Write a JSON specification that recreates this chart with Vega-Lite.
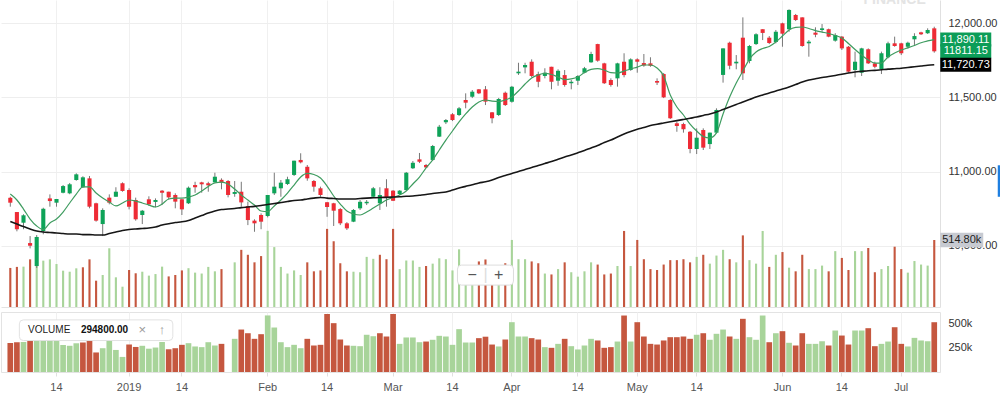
{
  "$schema": "https://vega.github.io/schema/vega-lite/v6.json",
  "padding": 0,
  "spacing": 4,
  "config": {"view": {"stroke": null}, "axis": {"labelFont": "Liberation Sans"}, "text": {"font": "Liberation Sans"}},
  "data": {"values": [
{"d":"2018-12-04","o":10824,"h":10831,"l":10764,"c":10791,"v":300000,"vd":"down","m5":10849,"m50":10664},
{"d":"2018-12-06","o":10728,"h":10728,"l":10598,"c":10612,"v":308000,"vd":"down","m5":10809,"m50":10647},
{"d":"2018-12-07","o":10656,"h":10713,"l":10612,"c":10706,"v":310000,"vd":"up","m5":10748,"m50":10630},
{"d":"2018-12-10","o":10519,"h":10566,"l":10483,"c":10501,"v":366000,"vd":"down","m5":10681,"m50":10614},
{"d":"2018-12-11","o":10364,"h":10573,"l":10351,"c":10560,"v":345000,"vd":"up","m5":10634,"m50":10600},
{"d":"2018-12-12","o":10600,"h":10757,"l":10578,"c":10750,"v":356000,"vd":"up","m5":10610,"m50":10593},
{"d":"2018-12-13","o":10820,"h":10847,"l":10764,"c":10802,"v":366000,"vd":"up","m5":10654,"m50":10590},
{"d":"2018-12-14","o":10791,"h":10816,"l":10764,"c":10816,"v":330000,"vd":"up","m5":10681,"m50":10587},
{"d":"2018-12-17","o":10858,"h":10910,"l":10854,"c":10903,"v":279000,"vd":"up","m5":10728,"m50":10583},
{"d":"2018-12-18","o":10854,"h":10924,"l":10848,"c":10915,"v":271000,"vd":"up","m5":10789,"m50":10580},
{"d":"2018-12-19","o":10944,"h":10989,"l":10939,"c":10982,"v":297000,"vd":"up","m5":10849,"m50":10580},
{"d":"2018-12-20","o":10895,"h":10969,"l":10890,"c":10962,"v":305000,"vd":"down","m5":10897,"m50":10576},
{"d":"2018-12-21","o":10955,"h":10971,"l":10753,"c":10764,"v":366000,"vd":"down","m5":10897,"m50":10576},
{"d":"2018-12-24","o":10787,"h":10791,"l":10663,"c":10670,"v":202000,"vd":"down","m5":10856,"m50":10573},
{"d":"2018-12-26","o":10647,"h":10753,"l":10566,"c":10742,"v":246000,"vd":"up","m5":10822,"m50":10573},
{"d":"2018-12-27","o":10825,"h":10847,"l":10780,"c":10791,"v":451000,"vd":"up","m5":10795,"m50":10583},
{"d":"2018-12-28","o":10831,"h":10895,"l":10831,"c":10865,"v":228000,"vd":"up","m5":10769,"m50":10593},
{"d":"2018-12-31","o":10922,"h":10928,"l":10865,"c":10870,"v":156000,"vd":"up","m5":10789,"m50":10603},
{"d":"2019-01-02","o":10876,"h":10888,"l":10746,"c":10764,"v":284000,"vd":"down","m5":10809,"m50":10610},
{"d":"2019-01-03","o":10809,"h":10825,"l":10670,"c":10679,"v":259000,"vd":"down","m5":10802,"m50":10614},
{"d":"2019-01-04","o":10708,"h":10742,"l":10647,"c":10737,"v":271000,"vd":"up","m5":10789,"m50":10617},
{"d":"2019-01-07","o":10814,"h":10834,"l":10771,"c":10780,"v":241000,"vd":"up","m5":10775,"m50":10620},
{"d":"2019-01-08","o":10796,"h":10820,"l":10760,"c":10809,"v":253000,"vd":"up","m5":10762,"m50":10627},
{"d":"2019-01-09","o":10872,"h":10876,"l":10775,"c":10858,"v":310000,"vd":"up","m5":10782,"m50":10640},
{"d":"2019-01-10","o":10865,"h":10865,"l":10813,"c":10827,"v":235000,"vd":"down","m5":10816,"m50":10649},
{"d":"2019-01-11","o":10843,"h":10854,"l":10753,"c":10798,"v":246000,"vd":"down","m5":10822,"m50":10657},
{"d":"2019-01-14","o":10814,"h":10814,"l":10708,"c":10746,"v":281000,"vd":"down","m5":10822,"m50":10662},
{"d":"2019-01-15","o":10787,"h":10900,"l":10782,"c":10892,"v":298000,"vd":"up","m5":10829,"m50":10671},
{"d":"2019-01-16","o":10910,"h":10932,"l":10858,"c":10895,"v":264000,"vd":"up","m5":10843,"m50":10688},
{"d":"2019-01-17","o":10928,"h":10932,"l":10858,"c":10915,"v":257000,"vd":"up","m5":10870,"m50":10704},
{"d":"2019-01-18","o":10922,"h":10932,"l":10865,"c":10908,"v":308000,"vd":"up","m5":10900,"m50":10721},
{"d":"2019-01-22","o":10928,"h":10993,"l":10928,"c":10966,"v":274000,"vd":"up","m5":10924,"m50":10735},
{"d":"2019-01-23","o":10945,"h":10955,"l":10881,"c":10927,"v":291000,"vd":"down","m5":10930,"m50":10745},
{"d":"2019-01-24","o":10937,"h":10944,"l":10827,"c":10843,"v":0,"vd":"down","m5":10917,"m50":10748},
{"d":"2019-01-25","o":10850,"h":10937,"l":10831,"c":10863,"v":343000,"vd":"up","m5":10883,"m50":10752},
{"d":"2019-01-28","o":10865,"h":10932,"l":10764,"c":10793,"v":439000,"vd":"down","m5":10843,"m50":10758},
{"d":"2019-01-29","o":10768,"h":10798,"l":10640,"c":10674,"v":401000,"vd":"down","m5":10809,"m50":10762},
{"d":"2019-01-30","o":10670,"h":10679,"l":10595,"c":10652,"v":343000,"vd":"down","m5":10775,"m50":10766},
{"d":"2019-01-31","o":10708,"h":10719,"l":10612,"c":10663,"v":391000,"vd":"down","m5":10735,"m50":10772},
{"d":"2019-02-01","o":10701,"h":10843,"l":10692,"c":10843,"v":585000,"vd":"up","m5":10731,"m50":10779},
{"d":"2019-02-04","o":10854,"h":10993,"l":10843,"c":10899,"v":460000,"vd":"up","m5":10769,"m50":10785},
{"d":"2019-02-05","o":10888,"h":10944,"l":10831,"c":10926,"v":308000,"vd":"up","m5":10809,"m50":10792},
{"d":"2019-02-06","o":10917,"h":10966,"l":10910,"c":10949,"v":257000,"vd":"up","m5":10856,"m50":10799},
{"d":"2019-02-07","o":10978,"h":11074,"l":10971,"c":11074,"v":281000,"vd":"up","m5":10910,"m50":10806},
{"d":"2019-02-08","o":11079,"h":11124,"l":11056,"c":11063,"v":246000,"vd":"up","m5":10964,"m50":10809},
{"d":"2019-02-11","o":11033,"h":11045,"l":10939,"c":10955,"v":343000,"vd":"down","m5":10988,"m50":10816},
{"d":"2019-02-12","o":10937,"h":10944,"l":10865,"c":10899,"v":274000,"vd":"down","m5":10981,"m50":10822},
{"d":"2019-02-13","o":10888,"h":10899,"l":10831,"c":10843,"v":281000,"vd":"down","m5":10957,"m50":10826},
{"d":"2019-02-14","o":10794,"h":10796,"l":10696,"c":10762,"v":600000,"vd":"down","m5":10903,"m50":10822},
{"d":"2019-02-15","o":10787,"h":10790,"l":10634,"c":10737,"v":505000,"vd":"down","m5":10836,"m50":10819},
{"d":"2019-02-19","o":10748,"h":10755,"l":10640,"c":10652,"v":336000,"vd":"down","m5":10782,"m50":10816},
{"d":"2019-02-20","o":10652,"h":10660,"l":10607,"c":10618,"v":274000,"vd":"down","m5":10735,"m50":10816},
{"d":"2019-02-21","o":10663,"h":10748,"l":10660,"c":10742,"v":271000,"vd":"up","m5":10715,"m50":10816},
{"d":"2019-02-22","o":10753,"h":10809,"l":10742,"c":10797,"v":267000,"vd":"up","m5":10708,"m50":10819},
{"d":"2019-02-25","o":10787,"h":10809,"l":10775,"c":10797,"v":385000,"vd":"up","m5":10728,"m50":10822},
{"d":"2019-02-26","o":10831,"h":10897,"l":10822,"c":10888,"v":370000,"vd":"up","m5":10755,"m50":10824},
{"d":"2019-02-27","o":10787,"h":10895,"l":10742,"c":10843,"v":401000,"vd":"down","m5":10782,"m50":10826},
{"d":"2019-02-28","o":10888,"h":10949,"l":10764,"c":10827,"v":367000,"vd":"down","m5":10809,"m50":10827},
{"d":"2019-03-01","o":10872,"h":10876,"l":10802,"c":10804,"v":600000,"vd":"down","m5":10826,"m50":10829},
{"d":"2019-03-04","o":10849,"h":10876,"l":10843,"c":10872,"v":291000,"vd":"up","m5":10843,"m50":10831},
{"d":"2019-03-05","o":10876,"h":10998,"l":10872,"c":10993,"v":357000,"vd":"up","m5":10870,"m50":10834},
{"d":"2019-03-06","o":11023,"h":11072,"l":11018,"c":11060,"v":357000,"vd":"up","m5":10917,"m50":10836},
{"d":"2019-03-07","o":11083,"h":11126,"l":11058,"c":11067,"v":308000,"vd":"up","m5":10964,"m50":10841},
{"d":"2019-03-08","o":11045,"h":11052,"l":11025,"c":11029,"v":315000,"vd":"down","m5":11025,"m50":10846},
{"d":"2019-03-11","o":11079,"h":11180,"l":11072,"c":11173,"v":333000,"vd":"up","m5":11079,"m50":10853},
{"d":"2019-03-12","o":11236,"h":11315,"l":11234,"c":11303,"v":374000,"vd":"up","m5":11146,"m50":10858},
{"d":"2019-03-13","o":11333,"h":11355,"l":11321,"c":11348,"v":367000,"vd":"up","m5":11213,"m50":10863},
{"d":"2019-03-14","o":11387,"h":11395,"l":11341,"c":11348,"v":281000,"vd":"up","m5":11274,"m50":10876},
{"d":"2019-03-15","o":11382,"h":11436,"l":11375,"c":11427,"v":443000,"vd":"up","m5":11335,"m50":10890},
{"d":"2019-03-18","o":11483,"h":11528,"l":11427,"c":11465,"v":305000,"vd":"up","m5":11389,"m50":10901},
{"d":"2019-03-19","o":11505,"h":11550,"l":11496,"c":11539,"v":305000,"vd":"up","m5":11436,"m50":10912},
{"d":"2019-03-20","o":11555,"h":11557,"l":11523,"c":11528,"v":350000,"vd":"down","m5":11470,"m50":10924},
{"d":"2019-03-21","o":11555,"h":11577,"l":11449,"c":11472,"v":365000,"vd":"down","m5":11483,"m50":10932},
{"d":"2019-03-22","o":11400,"h":11402,"l":11326,"c":11360,"v":284000,"vd":"down","m5":11476,"m50":10944},
{"d":"2019-03-27","o":11382,"h":11497,"l":11375,"c":11490,"v":264000,"vd":"up","m5":11473,"m50":10961},
{"d":"2019-03-29","o":11532,"h":11540,"l":11443,"c":11449,"v":336000,"vd":"down","m5":11483,"m50":10974},
{"d":"2019-04-01","o":11472,"h":11578,"l":11465,"c":11573,"v":515000,"vd":"up","m5":11503,"m50":10988},
{"d":"2019-04-02","o":11663,"h":11734,"l":11652,"c":11674,"v":367000,"vd":"up","m5":11544,"m50":11001},
{"d":"2019-04-03","o":11703,"h":11734,"l":11663,"c":11719,"v":367000,"vd":"up","m5":11591,"m50":11015},
{"d":"2019-04-04","o":11741,"h":11757,"l":11636,"c":11645,"v":350000,"vd":"down","m5":11631,"m50":11028},
{"d":"2019-04-05","o":11658,"h":11674,"l":11569,"c":11606,"v":336000,"vd":"down","m5":11652,"m50":11042},
{"d":"2019-04-08","o":11645,"h":11697,"l":11629,"c":11667,"v":257000,"vd":"up","m5":11662,"m50":11055},
{"d":"2019-04-09","o":11707,"h":11707,"l":11555,"c":11606,"v":250000,"vd":"down","m5":11655,"m50":11068},
{"d":"2019-04-10","o":11613,"h":11690,"l":11579,"c":11680,"v":291000,"vd":"up","m5":11638,"m50":11084},
{"d":"2019-04-11","o":11651,"h":11685,"l":11573,"c":11584,"v":343000,"vd":"down","m5":11621,"m50":11099},
{"d":"2019-04-12","o":11596,"h":11618,"l":11555,"c":11606,"v":267000,"vd":"up","m5":11625,"m50":11112},
{"d":"2019-04-15","o":11613,"h":11651,"l":11584,"c":11645,"v":233000,"vd":"up","m5":11638,"m50":11128},
{"d":"2019-04-16","o":11667,"h":11706,"l":11663,"c":11697,"v":274000,"vd":"up","m5":11668,"m50":11143},
{"d":"2019-04-17","o":11737,"h":11808,"l":11734,"c":11793,"v":343000,"vd":"up","m5":11689,"m50":11160},
{"d":"2019-04-18","o":11860,"h":11862,"l":11741,"c":11748,"v":326000,"vd":"down","m5":11695,"m50":11176},
{"d":"2019-04-22","o":11730,"h":11734,"l":11591,"c":11596,"v":250000,"vd":"down","m5":11685,"m50":11197},
{"d":"2019-04-23","o":11618,"h":11629,"l":11573,"c":11584,"v":257000,"vd":"down","m5":11668,"m50":11213},
{"d":"2019-04-24","o":11629,"h":11734,"l":11573,"c":11730,"v":315000,"vd":"up","m5":11665,"m50":11234},
{"d":"2019-04-25","o":11741,"h":11798,"l":11636,"c":11651,"v":584000,"vd":"down","m5":11678,"m50":11254},
{"d":"2019-04-26","o":11685,"h":11764,"l":11680,"c":11757,"v":315000,"vd":"up","m5":11692,"m50":11271},
{"d":"2019-05-01","o":11757,"h":11764,"l":11667,"c":11741,"v":515000,"vd":"down","m5":11705,"m50":11286},
{"d":"2019-05-02","o":11732,"h":11793,"l":11707,"c":11716,"v":367000,"vd":"down","m5":11719,"m50":11298},
{"d":"2019-05-03","o":11730,"h":11771,"l":11707,"c":11714,"v":291000,"vd":"down","m5":11719,"m50":11311},
{"d":"2019-05-06","o":11611,"h":11629,"l":11584,"c":11600,"v":284000,"vd":"down","m5":11699,"m50":11320},
{"d":"2019-05-07","o":11658,"h":11665,"l":11496,"c":11501,"v":326000,"vd":"down","m5":11645,"m50":11328},
{"d":"2019-05-08","o":11483,"h":11490,"l":11355,"c":11360,"v":360000,"vd":"down","m5":11517,"m50":11336},
{"d":"2019-05-09","o":11326,"h":11337,"l":11269,"c":11308,"v":360000,"vd":"down","m5":11436,"m50":11344},
{"d":"2019-05-10","o":11321,"h":11330,"l":11263,"c":11286,"v":367000,"vd":"down","m5":11382,"m50":11352},
{"d":"2019-05-13","o":11269,"h":11274,"l":11124,"c":11153,"v":343000,"vd":"down","m5":11321,"m50":11360},
{"d":"2019-05-14","o":11153,"h":11292,"l":11119,"c":11229,"v":385000,"vd":"up","m5":11274,"m50":11368},
{"d":"2019-05-15","o":11281,"h":11292,"l":11146,"c":11162,"v":401000,"vd":"down","m5":11237,"m50":11379},
{"d":"2019-05-16","o":11186,"h":11263,"l":11153,"c":11263,"v":333000,"vd":"up","m5":11227,"m50":11389},
{"d":"2019-05-17","o":11263,"h":11427,"l":11258,"c":11416,"v":395000,"vd":"up","m5":11261,"m50":11402},
{"d":"2019-05-20","o":11652,"h":11831,"l":11600,"c":11831,"v":439000,"vd":"up","m5":11389,"m50":11419},
{"d":"2019-05-21","o":11869,"h":11876,"l":11690,"c":11714,"v":367000,"vd":"down","m5":11503,"m50":11436},
{"d":"2019-05-22","o":11730,"h":11786,"l":11690,"c":11741,"v":343000,"vd":"up","m5":11598,"m50":11453},
{"d":"2019-05-23","o":11903,"h":12040,"l":11618,"c":11663,"v":550000,"vd":"down","m5":11678,"m50":11470},
{"d":"2019-05-24","o":11746,"h":11854,"l":11730,"c":11847,"v":360000,"vd":"up","m5":11759,"m50":11486},
{"d":"2019-05-28","o":11860,"h":11933,"l":11854,"c":11926,"v":333000,"vd":"up","m5":11807,"m50":11503},
{"d":"2019-05-29","o":11960,"h":11960,"l":11887,"c":11935,"v":584000,"vd":"up","m5":11830,"m50":11517},
{"d":"2019-05-30","o":11903,"h":11914,"l":11860,"c":11867,"v":308000,"vd":"down","m5":11844,"m50":11530},
{"d":"2019-05-31","o":11874,"h":11955,"l":11865,"c":11943,"v":401000,"vd":"up","m5":11874,"m50":11544},
{"d":"2019-06-03","o":12000,"h":12004,"l":11842,"c":11930,"v":422000,"vd":"down","m5":11914,"m50":11557},
{"d":"2019-06-04","o":11960,"h":12094,"l":11943,"c":12090,"v":302000,"vd":"up","m5":11955,"m50":11571},
{"d":"2019-06-05","o":12056,"h":12063,"l":12015,"c":12022,"v":274000,"vd":"down","m5":11972,"m50":11587},
{"d":"2019-06-06","o":12040,"h":12040,"l":11842,"c":11847,"v":401000,"vd":"down","m5":11975,"m50":11604},
{"d":"2019-06-07","o":11865,"h":11887,"l":11775,"c":11876,"v":291000,"vd":"up","m5":11965,"m50":11618},
{"d":"2019-06-10","o":11937,"h":11973,"l":11906,"c":11923,"v":291000,"vd":"up","m5":11951,"m50":11626},
{"d":"2019-06-11","o":11955,"h":11995,"l":11943,"c":11966,"v":318000,"vd":"up","m5":11941,"m50":11635},
{"d":"2019-06-12","o":11960,"h":11964,"l":11906,"c":11910,"v":274000,"vd":"down","m5":11931,"m50":11641},
{"d":"2019-06-13","o":11883,"h":11933,"l":11876,"c":11921,"v":429000,"vd":"up","m5":11918,"m50":11648},
{"d":"2019-06-14","o":11910,"h":11914,"l":11820,"c":11831,"v":377000,"vd":"down","m5":11901,"m50":11656},
{"d":"2019-06-17","o":11842,"h":11847,"l":11667,"c":11674,"v":284000,"vd":"down","m5":11864,"m50":11665},
{"d":"2019-06-18","o":11685,"h":11809,"l":11636,"c":11741,"v":429000,"vd":"up","m5":11823,"m50":11672},
{"d":"2019-06-19","o":11667,"h":11835,"l":11645,"c":11831,"v":429000,"vd":"up","m5":11786,"m50":11676},
{"d":"2019-06-20","o":11825,"h":11831,"l":11726,"c":11730,"v":453000,"vd":"down","m5":11753,"m50":11680},
{"d":"2019-06-21","o":11730,"h":11741,"l":11697,"c":11707,"v":267000,"vd":"down","m5":11732,"m50":11683},
{"d":"2019-06-24","o":11692,"h":11809,"l":11658,"c":11798,"v":291000,"vd":"up","m5":11732,"m50":11687},
{"d":"2019-06-25","o":11771,"h":11876,"l":11764,"c":11865,"v":315000,"vd":"up","m5":11773,"m50":11691},
{"d":"2019-06-26","o":11865,"h":11910,"l":11842,"c":11847,"v":463000,"vd":"down","m5":11800,"m50":11694},
{"d":"2019-07-01","o":11865,"h":11869,"l":11786,"c":11798,"v":291000,"vd":"down","m5":11820,"m50":11697},
{"d":"2019-07-02","o":11842,"h":11876,"l":11831,"c":11869,"v":264000,"vd":"up","m5":11834,"m50":11702},
{"d":"2019-07-03","o":11892,"h":11933,"l":11854,"c":11914,"v":353000,"vd":"up","m5":11850,"m50":11707},
{"d":"2019-07-05","o":11939,"h":11943,"l":11921,"c":11926,"v":326000,"vd":"up","m5":11869,"m50":11712},
{"d":"2019-07-08","o":11933,"h":11966,"l":11928,"c":11955,"v":318000,"vd":"up","m5":11881,"m50":11717},
{"d":"2019-07-09","o":11966,"h":11977,"l":11802,"c":11811.15,"v":514800,"vd":"down","m5":11890.11,"m50":11720.73}
  ]},
  "vconcat": [
    {
      "width": 939,
      "height": 307,
      "encoding": {
        "x": {"field": "d", "type": "ordinal",
          "scale": {"paddingInner": 0, "paddingOuter": 0.64, "align": 0.71},
          "axis": {"title": null, "labels": false, "ticks": false, "domain": true, "domainColor": "#e3e3e3", "grid": true, "gridColor": "#f0f0f0", "bandPosition": 0.5,
            "values": ["2018-12-14","2019-01-02","2019-01-14","2019-02-01","2019-02-14","2019-03-01","2019-03-14","2019-04-01","2019-04-15","2019-05-01","2019-05-14","2019-06-03","2019-06-14","2019-07-01"]}}
      },
      "layer": [
        {
          "layer": [
            {"mark": {"type": "bar", "width": {"band": 0.32}},
             "encoding": {
               "y": {"field": "v", "type": "quantitative", "scale": {"domain": [0, 2357760], "nice": false}, "axis": null},
               "color": {"field": "vd", "type": "nominal", "scale": {"domain": ["up", "down"], "range": ["#a8d49a", "#c5573f"]}, "legend": null}}},
            {"data": {"values": [{"d": "2019-07-09", "v": 514800}]},
             "mark": {"type": "point", "shape": "M0.12,-0.146H0.98V0.146H0.12Z", "size": 10000, "filled": true, "color": "#c7cad1", "opacity": 1, "strokeWidth": 0},
             "encoding": {"y": {"field": "v", "type": "quantitative"}}},
            {"data": {"values": [{"d": "2019-07-09", "v": 514800, "t": "514.80k"}]},
             "mark": {"type": "text", "dx": 27.5, "align": "center", "baseline": "middle", "fontSize": 11, "color": "#222"},
             "encoding": {"y": {"field": "v", "type": "quantitative"}, "text": {"field": "t"}}}
          ]
        },
        {
          "layer": [
            {"mark": {"type": "rule", "color": "#777", "strokeWidth": 1},
             "encoding": {
               "y": {"field": "l", "type": "quantitative", "scale": {"domain": [10088, 12157], "nice": false, "zero": false},
                 "axis": {"orient": "right", "title": null, "values": [10500, 11000, 11500, 12000], "format": ",.2f", "grid": true, "gridColor": "#eeeeee", "ticks": false, "domain": true, "domainColor": "#e0e0e0", "labelPadding": 8, "labelFontSize": 11, "labelColor": "#333"}},
               "y2": {"field": "h"}}},
            {"mark": {"type": "bar", "width": {"band": 0.62}},
             "encoding": {
               "y": {"field": "o", "type": "quantitative"},
               "y2": {"field": "c"},
               "color": {"condition": {"test": "datum.c >= datum.o", "value": "#0ea358"}, "value": "#ee2b35"}}},
            {"mark": {"type": "line", "color": "#3f9c60", "strokeWidth": 1.2, "interpolate": "monotone"},
             "encoding": {"y": {"field": "m5", "type": "quantitative"}}},
            {"mark": {"type": "line", "color": "#161616", "strokeWidth": 1.6, "interpolate": "monotone"},
             "encoding": {"y": {"field": "m50", "type": "quantitative"}}},
            {"data": {"values": [
               {"d": "2019-07-09", "p": 11890.11, "t": "11,890.11", "k": "g"},
               {"d": "2019-07-09", "p": 11811.15, "t": "11811.15", "k": "g"},
               {"d": "2019-07-09", "p": 11720.73, "t": "11,720.73", "k": "b"}]},
             "layer": [
               {"mark": {"type": "point", "shape": "M0.12,-0.14H1.14V0.14H0.12Z", "size": 10000, "filled": true, "opacity": 1, "strokeWidth": 0},
                "encoding": {"y": {"field": "p", "type": "quantitative"},
                  "color": {"condition": {"test": "datum.k == 'b'", "value": "#000000"}, "value": "#0c9d58"}}},
               {"mark": {"type": "text", "dx": 31.5, "align": "center", "baseline": "middle", "fontSize": 11, "color": "#ffffff"},
                "encoding": {"y": {"field": "p", "type": "quantitative"}, "text": {"field": "t"}}}
             ]},
            {"data": {"values": [{"d": "2019-03-21", "p": 10303}]},
             "mark": {"type": "point", "shape": "M-0.6,-0.25H0.6Q0.7,-0.25 0.7,-0.15V0.15Q0.7,0.25 0.6,0.25H-0.6Q-0.7,0.25 -0.7,0.15V-0.15Q-0.7,-0.25 -0.6,-0.25Z", "size": 6400, "filled": true, "fill": "#ffffff", "stroke": "#dddddd", "strokeWidth": 1, "opacity": 1},
             "encoding": {"y": {"field": "p", "type": "quantitative"}}},
            {"data": {"values": [
               {"d": "2019-03-19", "p": 10303, "t": "−"},
               {"d": "2019-03-21", "p": 10303, "t": "|"},
               {"d": "2019-03-27", "p": 10303, "t": "+"}]},
             "mark": {"type": "text", "align": "center", "baseline": "middle", "fontSize": 16},
             "encoding": {"y": {"field": "p", "type": "quantitative"}, "text": {"field": "t"},
               "color": {"condition": {"test": "datum.t == '|'", "value": "#dddddd"}, "value": "#555555"}}},
            {"data": {"values": [{"d": "2019-06-26", "p": 12130, "t": "FINANCE"}]},
             "mark": {"type": "text", "align": "center", "baseline": "alphabetic", "fontSize": 14, "fontWeight": "bold", "color": "#e4e4e4", "clip": true},
             "encoding": {"y": {"field": "p", "type": "quantitative"}, "text": {"field": "t"}}},
            {"data": {"values": [{"d": "2019-07-09", "p": 10937}]},
             "mark": {"type": "point", "shape": "M1.27,-0.315H1.42V0.315H1.27Z", "size": 10000, "filled": true, "color": "#1f7fe0", "opacity": 1, "strokeWidth": 0},
             "encoding": {"y": {"field": "p", "type": "quantitative"}}}
          ]
        }
      ],
      "resolve": {"scale": {"y": "independent"}}
    },
    {
      "width": 939,
      "height": 60,
      "view": {"stroke": "#e3e3e3"},
      "encoding": {
        "x": {"field": "d", "type": "ordinal",
          "scale": {"paddingInner": 0, "paddingOuter": 0.64, "align": 0.71},
          "axis": {"title": null, "labelAngle": 0, "labelFontSize": 11, "labelColor": "#555", "labelPadding": 5, "ticks": true, "tickColor": "#e0e0e0", "tickSize": 4, "domain": false, "grid": true, "gridColor": "#f0f0f0", "bandPosition": 0.5,
            "values": ["2018-12-14","2019-01-02","2019-01-14","2019-02-01","2019-02-14","2019-03-01","2019-03-14","2019-04-01","2019-04-15","2019-05-01","2019-05-14","2019-06-03","2019-06-14","2019-07-01"],
            "labelExpr": "datum.value == '2019-01-02' ? '2019' : (datum.value == '2019-04-15' || slice(datum.value, 8) == '14') ? '14' : ['Jan','Feb','Mar','Apr','May','Jun','Jul','Aug','Sep','Oct','Nov','Dec'][toNumber(slice(datum.value, 5, 7)) - 1]"}}
      },
      "layer": [
        {"mark": {"type": "bar", "width": {"band": 0.86}},
         "encoding": {
           "y": {"field": "v", "type": "quantitative", "scale": {"domain": [0, 620400], "nice": false},
             "axis": {"orient": "right", "title": null, "values": [250000, 500000], "labelExpr": "format(datum.value / 1000, 'd') + 'k'", "ticks": false, "domain": false, "grid": false, "labelPadding": 8, "labelFontSize": 11, "labelColor": "#333"}},
           "color": {"field": "vd", "type": "nominal", "scale": {"domain": ["up", "down"], "range": ["#a8d49a", "#c5573f"]}, "legend": null}}},
        {"data": {"values": [{"d": "2018-12-24", "v": 432000}]},
         "mark": {"type": "point", "shape": "M-0.909,-0.129H0.909Q0.959,-0.129 0.959,-0.079V0.079Q0.959,0.129 0.909,0.129H-0.909Q-0.959,0.129 -0.959,0.079V-0.079Q-0.959,-0.129 -0.909,-0.129Z", "size": 25600, "filled": true, "fill": "#ffffff", "stroke": "#e2e2e2", "strokeWidth": 1, "opacity": 1},
         "encoding": {"y": {"field": "v", "type": "quantitative"}}},
        {"data": {"values": [{"d": "2018-12-10", "v": 432000, "t": "VOLUME"}]},
         "mark": {"type": "text", "align": "left", "baseline": "middle", "dx": -2, "fontSize": 10, "color": "#222"},
         "encoding": {"y": {"field": "v", "type": "quantitative"}, "text": {"field": "t"}}},
        {"data": {"values": [{"d": "2018-12-20", "v": 432000, "t": "294800.00"}]},
         "mark": {"type": "text", "align": "left", "baseline": "middle", "dx": -2, "fontSize": 10, "fontWeight": "bold", "color": "#111"},
         "encoding": {"y": {"field": "v", "type": "quantitative"}, "text": {"field": "t"}}},
        {"data": {"values": [{"d": "2019-01-04", "v": 432000, "t": "×"}, {"d": "2019-01-09", "v": 432000, "t": "↑"}]},
         "mark": {"type": "text", "align": "center", "baseline": "middle", "fontSize": 13, "color": "#999"},
         "encoding": {"y": {"field": "v", "type": "quantitative"}, "text": {"field": "t"}}}
      ]
    }
  ]
}
